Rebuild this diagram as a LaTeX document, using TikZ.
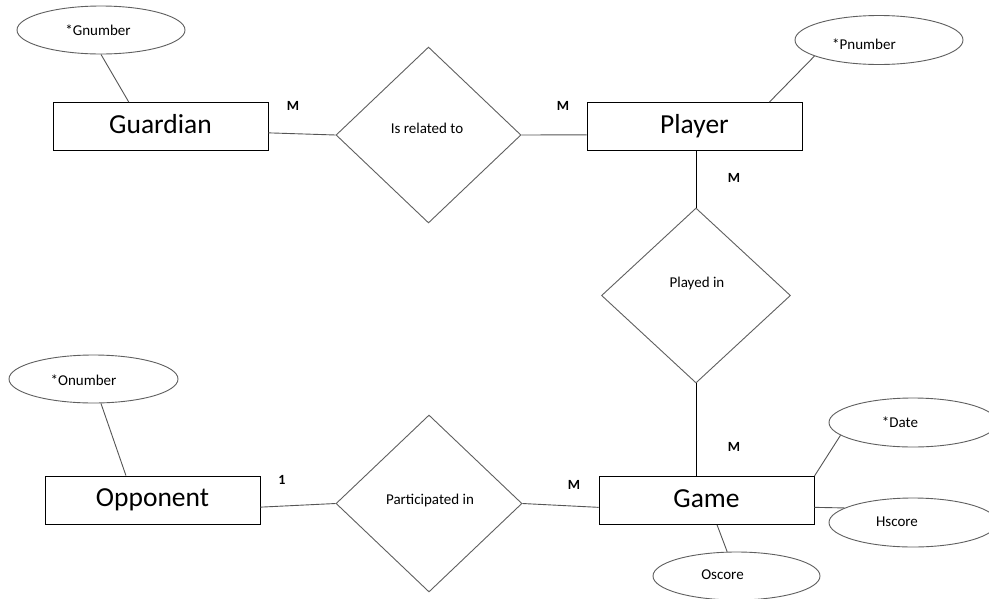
\documentclass[tikz,border=0pt]{standalone}
\usepackage{fontspec}
\setmainfont{Carlito}
\usetikzlibrary{shapes.geometric,calc}
\definecolor{edgegray}{RGB}{85,85,85}
\definecolor{shapegray}{RGB}{95,95,95}
\tikzset{
  entity/.style={draw=black, line width=0.9pt, fill=white, rectangle, minimum width=215pt, minimum height=48pt, inner sep=0pt, text height=19pt, text depth=6pt, font=\fontsize{27.5}{30}\selectfont},
  relation/.style={draw=shapegray, line width=0.9pt, fill=white, diamond, inner sep=0pt},
  attrib/.style={draw=shapegray, line width=0.9pt, fill=white, ellipse, minimum width=168pt, minimum height=48pt, inner sep=0pt},
  smalltext/.style={font=\fontsize{15}{17}\selectfont},
  card/.style={font=\fontsize{14}{16}\selectfont\bfseries, inner sep=0pt},
  conn/.style={draw=edgegray, line width=0.9pt},
}
\begin{document}
\begin{tikzpicture}[x=1pt,y=-1pt]
\useasboundingbox (0,0) rectangle (989,598);
\clip (0,0) rectangle (989,598);
\fill[white] (0,0) rectangle (989,598);

% entities
\node[entity] (guard) at (160.5,126.5) {Guardian};
\node[entity] (player) at (694.5,126.5) {Player};
\node[entity] (game) at (706.5,500.5) {Game};
\node[entity] (opp) at (152.5,500) {Opponent};

% relationships
\node[relation, minimum width=185pt, minimum height=176pt,
  label={[smalltext, xshift=-1.5pt, yshift=7pt]center:Is related to}] (rel) at (428.5,135) {};
\node[relation, minimum width=189pt, minimum height=175pt,
  label={[smalltext, xshift=1pt, yshift=12.5pt]center:Played in}] (play) at (696,295.5) {};
\node[relation, minimum width=186pt, minimum height=177pt,
  label={[smalltext, xshift=1pt, yshift=3.5pt]center:Participated in}] (part) at (429,503.5) {};

% attributes
\node[attrib, label={[smalltext, xshift=-3pt]center:*Gnumber}] (gn) at (101,30) {};
\node[attrib, minimum height=49pt, label={[smalltext, xshift=-15pt, yshift=-4pt]center:*Pnumber}] (pn) at (879,40) {};
\node[attrib, minimum width=169pt, label={[smalltext, xshift=-10pt, yshift=-1.5pt]center:*Onumber}] (on) at (93.5,379) {};
\node[attrib, minimum height=49pt, label={[smalltext, xshift=-13pt]center:*Date}] (date) at (913,422.5) {};
\node[attrib, minimum height=49pt, label={[smalltext, xshift=-16pt, yshift=1pt]center:Hscore}] (hs) at (913,522.5) {};
\node[attrib, minimum width=167pt, label={[smalltext, xshift=-14pt, yshift=1pt]center:Oscore}] (os) at (736.5,576) {};

% cardinalities
\node[card] (m1) at (293,106) {M};
\node[card] (m2) at (563,106) {M};
\node[card] (m3) at (734,178) {M};
\node[card] (m4) at (734,447) {M};
\node[card] (c1) at (282,480) {1};
\node[card] (m5) at (574,485) {M};

% connectors
\draw[conn] (gn.south) -- ($(guard.north west)!0.353!(guard.north east)$);
\draw[conn] ($(guard.south east)!0.37!(guard.north east)$) -- (rel.west);
\draw[conn] (rel.east) -- ($(player.south west)!0.33!(player.north west)$);
\draw[conn] (pn.194) -- ($(player.north west)!0.847!(player.north east)$);
\draw[conn, draw=black] (play.north |- player.south) -- (play.north);
\draw[conn, draw=black] (play.south) -- (play.south |- game.north);
\draw[conn] (date.190) -- (game.north east);
\draw[conn] ($(game.south east)!0.36!(game.north east)$) -- (hs.168);
\draw[conn] ($(game.south west)!0.549!(game.south east)$) -- (os.111);
\draw[conn] (on.-73) -- ($(opp.north west)!0.377!(opp.north east)$);
\draw[conn] ($(opp.south east)!0.354!(opp.north east)$) -- (part.west);
\draw[conn] (part.east) -- ($(game.south west)!0.36!(game.north west)$);
\end{tikzpicture}
\end{document}
